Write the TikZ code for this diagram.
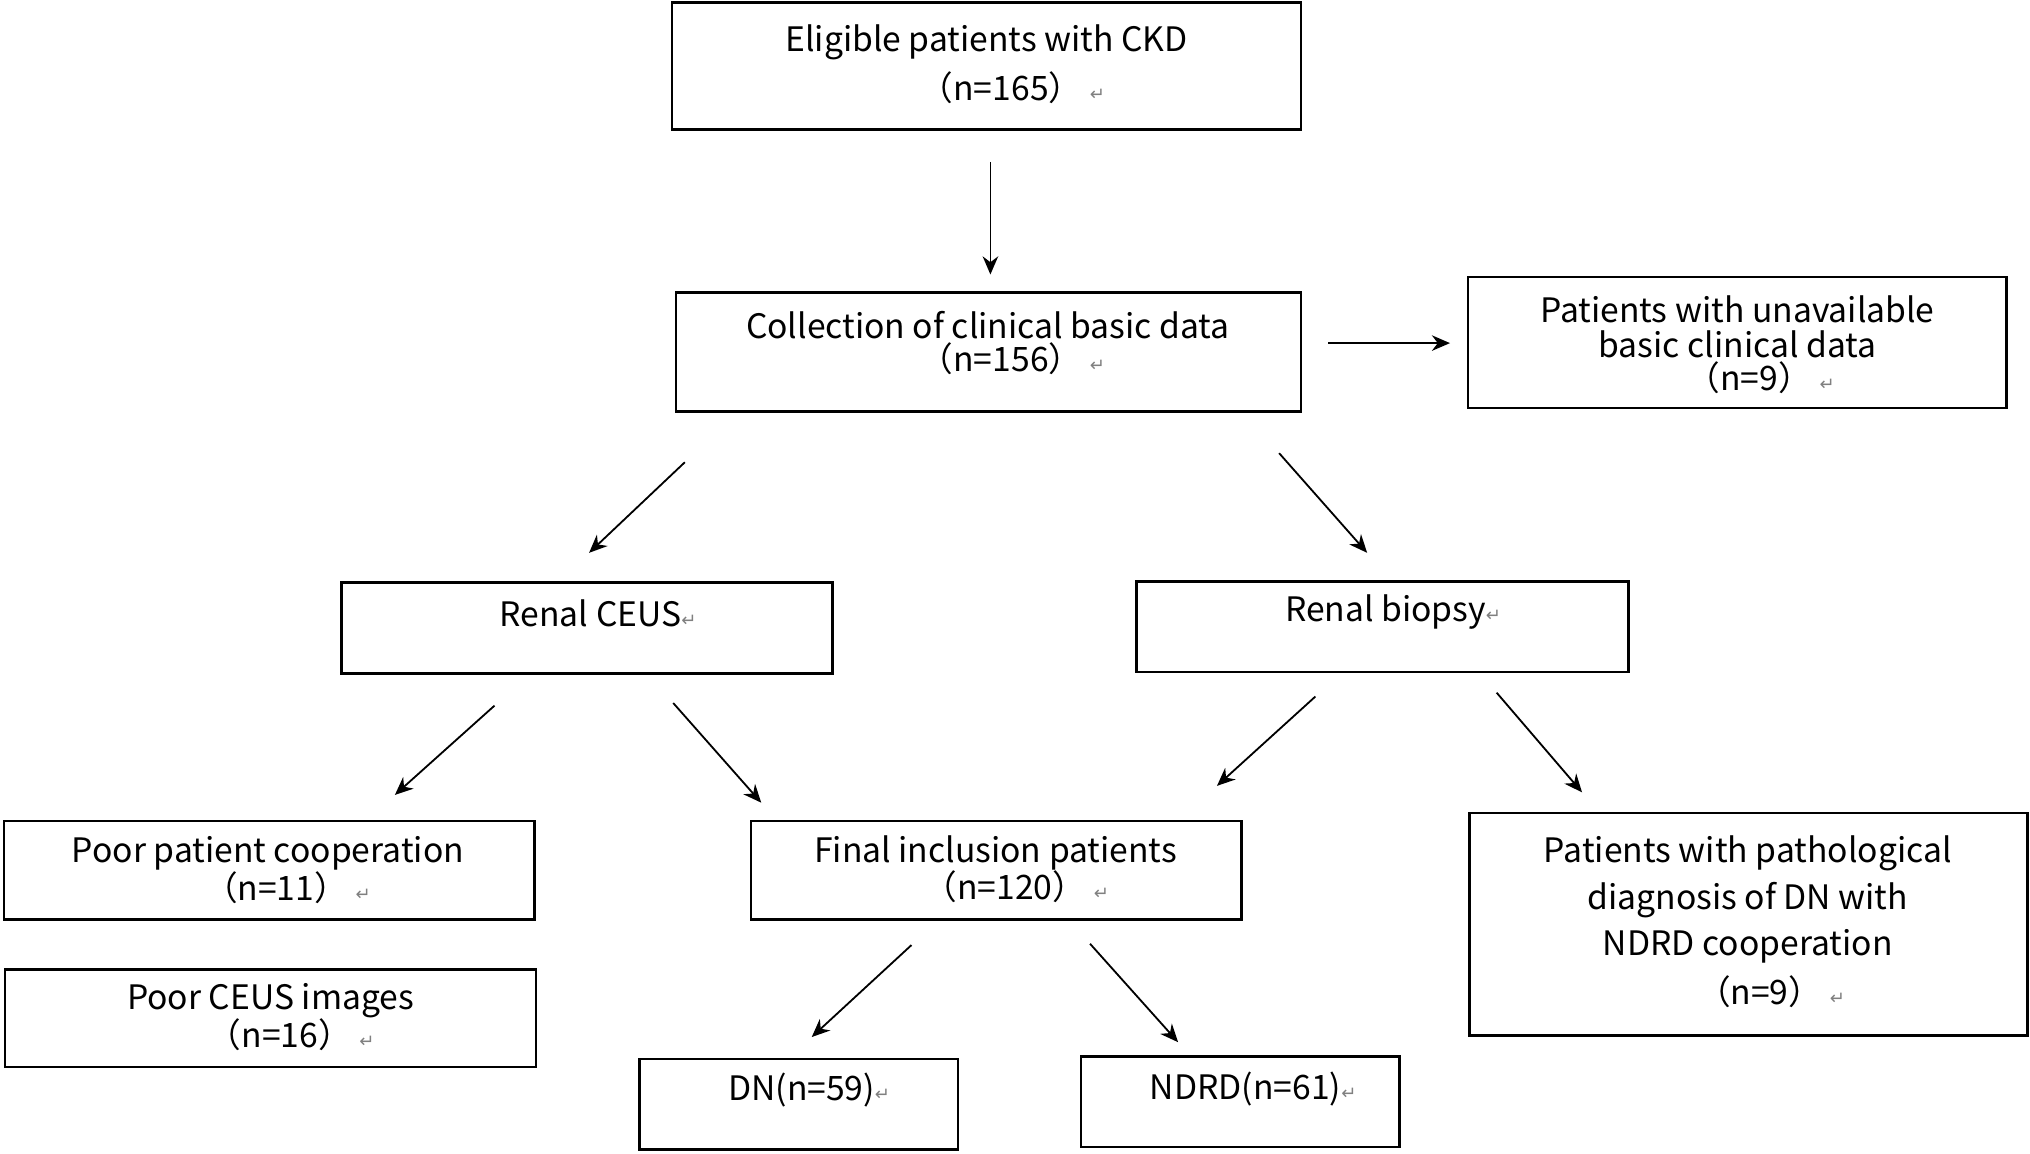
\documentclass[tikz,border=0pt]{standalone}
\usepackage{fontspec}
\setmainfont{Noto Sans CJK SC}
\newfontfamily\sym{DejaVu Sans}
\usetikzlibrary{arrows.meta}
\newcommand{\rt}{{\sym\color{gray}\scriptsize ↵}}
\begin{document}
\begin{tikzpicture}[x=0.5pt,y=-0.5pt,
  box/.style={draw,line width=1pt},
  txt/.style={font=\fontsize{13}{14}\selectfont,align=center,inner sep=0pt},
  arr/.style={-{Stealth[length=7pt,width=6pt]},line width=0.7pt}]
\useasboundingbox (0,0) rectangle (1568,891);
\draw[box] (519,2) rectangle (1005,100) coordinate (b1);
\draw[box] (522,226) rectangle (1005,318) coordinate (b2);
\draw[box] (1134,214) rectangle (1550,315) coordinate (b3);
\draw[box] (264,450) rectangle (643,520) coordinate (b4);
\draw[box] (878,449) rectangle (1258,519) coordinate (b5);
\draw[box] (3,634) rectangle (413,710) coordinate (b6);
\draw[box] (4,749) rectangle (414,824) coordinate (b7);
\draw[box] (580,634) rectangle (959,710) coordinate (b8);
\draw[box] (1135,628) rectangle (1566,800) coordinate (b9);
\draw[box] (494,818) rectangle (740,888) coordinate (b10);
\draw[box] (835,816) rectangle (1081,886) coordinate (b11);

\node[txt] (t1) at (762,33) {Eligible patients with CKD};
\node[txt] (t1b) at (782,68) {（n=165） \rt};
\node[txt] (t2) at (763,251) {Collection of clinical basic data};
\node[txt] (t2b) at (782,277) {（n=156） \rt};
\node[txt] (t3) at (1342,239) {Patients with unavailable};
\node[txt] (t3b) at (1342,266) {basic clinical data};
\node[txt] (t3c) at (1360,292) {（n=9） \rt};
\node[txt] (t4) at (462,474) {Renal CEUS\rt};
\node[txt] (t5) at (1076,473) {Renal biopsy\rt};
\node[txt] (t6) at (207,659) {Poor patient cooperation};
\node[txt] (t6b) at (222,686) {（n=11） \rt};
\node[txt] (t7) at (209,773) {Poor CEUS images};
\node[txt] (t7b) at (225,799) {（n=16） \rt};
\node[txt] (t8) at (769,659) {Final inclusion patients};
\node[txt] (t8b) at (785,685) {（n=120） \rt};
\node[txt] (t9) at (1350,659) {Patients with pathological};
\node[txt] (t9b) at (1350,695) {diagnosis of DN with};
\node[txt] (t9c) at (1350,731) {NDRD cooperation};
\node[txt] (t9d) at (1368,766) {（n=9） \rt};
\node[txt] (t10) at (625,842) {DN(n=59)\rt};
\node[txt] (t11) at (968,841) {NDRD(n=61)\rt};

\foreach \n/\a/\b/\c/\d in {a/765/125/765/212, b/1026/265/1120/265, c/529/357/455/427,
  d/988/350/1056/427, e/382/545/305/614, f/520/543/588/620, g/1016/538/940/607,
  h/1156/535/1222/612, i/704/730/627/801, j/842/729/910/805}{
  \coordinate (\n s) at (\a,\b); \coordinate (\n e) at (\c,\d);
  \draw[arr] (\n s) -- (\n e);}
\end{tikzpicture}
\end{document}
